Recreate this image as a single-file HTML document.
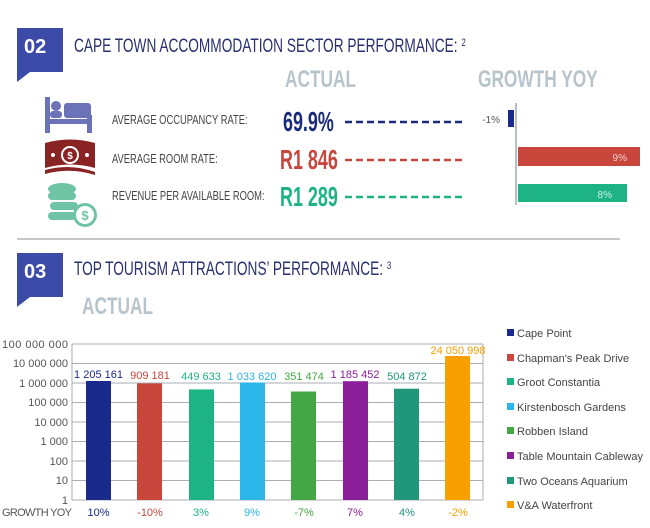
<!DOCTYPE html>
<html><head><meta charset="utf-8"><style>
body{margin:0;width:650px;height:528px;background:#fff;position:relative;overflow:hidden;font-family:"Liberation Sans",sans-serif}
.a{position:absolute;white-space:nowrap}
.n{transform-origin:0 0;transform:scaleX(0.72)}
.v{transform-origin:0 0;transform:scaleX(0.64)}
</style></head><body>
<svg class="a" style="left:0;top:0" width="650" height="528">
<polygon points="17,28 63,28 63,72 30,72 17,82" fill="#3c4aa8"/>
<polygon points="17,253 63,253 63,297 30,297 17,307" fill="#3c4aa8"/>
<line x1="17" y1="239" x2="620" y2="239" stroke="#c4c8cc" stroke-width="2"/>
<rect x="45" y="97" width="5" height="36" fill="#6b72b8"/>
<rect x="87" y="115" width="5" height="18" fill="#6b72b8"/>
<rect x="45" y="119" width="47" height="5" fill="#6b72b8"/>
<circle cx="56" cy="106" r="5" fill="#6b72b8"/>
<rect x="50" y="111" width="12" height="7" rx="3" fill="#6b72b8"/>
<rect x="64" y="103" width="27" height="15" rx="3" fill="#6b72b8"/>
<path d="M45,143 Q70,136 95,143 L95,168 Q70,161 45,168Z" fill="#8a2424"/>
<path d="M45,170 Q70,163 95,172 L95,175 Q70,167 45,174Z" fill="#8a2424"/>
<circle cx="70" cy="155" r="9" fill="#fff"/><circle cx="70" cy="155" r="7" fill="#8a2424"/>
<text x="70" y="159" font-size="10" fill="#fff" text-anchor="middle" font-weight="bold">$</text>
<circle cx="53" cy="155" r="2" fill="#fff"/><circle cx="87" cy="155" r="2" fill="#fff"/>
<g fill="#6ec4a4">
<ellipse cx="62" cy="189" rx="14" ry="6"/><rect x="48" y="192" width="28" height="8" rx="4"/>
<rect x="50" y="202" width="28" height="8" rx="4"/><rect x="48" y="212" width="28" height="8" rx="4"/>
<circle cx="85" cy="215" r="12"/></g>
<circle cx="85" cy="215" r="9" fill="#fff"/>
<text x="85" y="220" font-size="13" fill="#6ec4a4" text-anchor="middle" font-weight="bold">$</text>
<line x1="345" y1="122" x2="462" y2="122" stroke="#1a2a7c" stroke-width="2.5" stroke-dasharray="7,4"/>
<line x1="345" y1="160" x2="462" y2="160" stroke="#c9463d" stroke-width="2.5" stroke-dasharray="7,4"/>
<line x1="345" y1="197" x2="462" y2="197" stroke="#1db384" stroke-width="2.5" stroke-dasharray="7,4"/>
<line x1="516" y1="103" x2="516" y2="205" stroke="#b8bec4" stroke-width="2"/>
<rect x="508" y="110" width="6" height="17" fill="#1a2a8c"/>
<rect x="518" y="147" width="122" height="19" fill="#c9463d"/>
<rect x="518" y="184" width="109" height="18" fill="#1db384"/>
<text x="500" y="123" font-size="10" fill="#555" text-anchor="end">-1%</text>
<text x="627" y="161" font-size="10" fill="#f0d0d0" text-anchor="end">9%</text>
<text x="612" y="198" font-size="10" fill="#d0f0e4" text-anchor="end">8%</text>
<g stroke="#a8aeb4" stroke-width="1">
<line x1="72" y1="344" x2="483" y2="344"/><line x1="72" y1="363.5" x2="483" y2="363.5"/>
<line x1="72" y1="383" x2="483" y2="383"/><line x1="72" y1="402.5" x2="483" y2="402.5"/>
<line x1="72" y1="422" x2="483" y2="422"/><line x1="72" y1="441.5" x2="483" y2="441.5"/>
<line x1="72" y1="461" x2="483" y2="461"/><line x1="72" y1="480.5" x2="483" y2="480.5"/>
<line x1="72" y1="500" x2="483" y2="500"/>
<line x1="72" y1="344" x2="72" y2="500"/><line x1="483" y1="344" x2="483" y2="500"/>
</g>
<g font-size="11" fill="#555" text-anchor="end">
<text x="68" y="348" textLength="66">100 000 000</text><text x="68" y="367">10 000 000</text><text x="68" y="387">1 000 000</text>
<text x="68" y="406">100 000</text><text x="68" y="426">10 000</text><text x="68" y="445">1 000</text>
<text x="68" y="465">100</text><text x="68" y="484">10</text><text x="68" y="504">1</text>
</g>
<g>
<rect x="86" y="381" width="25" height="119" fill="#1a2a8c"/>
<rect x="137" y="383.4" width="25" height="116.6" fill="#c9463d"/>
<rect x="189" y="389.4" width="25" height="110.6" fill="#1db384"/>
<rect x="240" y="382.5" width="25" height="117.5" fill="#2bb5e8"/>
<rect x="291" y="391.5" width="25" height="108.5" fill="#43a843"/>
<rect x="343" y="381.2" width="25" height="118.8" fill="#8b1f9a"/>
<rect x="394" y="388.7" width="25" height="111.3" fill="#20967a"/>
<rect x="445" y="356" width="25" height="144" fill="#f7a000"/>
</g>
<g font-size="11" text-anchor="middle">
<text x="98.5" y="378" fill="#1a2a8c">1 205 161</text><text x="150" y="379" fill="#c9463d">909 181</text>
<text x="201" y="380" fill="#1db384">449 633</text><text x="252" y="380" fill="#2bb5e8">1 033 620</text>
<text x="304" y="380" fill="#43a843">351 474</text><text x="355" y="378" fill="#8b1f9a">1 185 452</text>
<text x="407" y="380" fill="#20967a">504 872</text><text x="458" y="354" fill="#f7a000">24 050 998</text>
<text x="98.5" y="516" fill="#1a2a8c">10%</text><text x="150" y="516" fill="#c9463d">-10%</text>
<text x="201" y="516" fill="#1db384">3%</text><text x="252" y="516" fill="#2bb5e8">9%</text>
<text x="304" y="516" fill="#43a843">-7%</text><text x="355" y="516" fill="#8b1f9a">7%</text>
<text x="407" y="516" fill="#20967a">4%</text><text x="458" y="516" fill="#f7a000">-2%</text>
</g>
<text x="2" y="516" font-size="11" fill="#555" textLength="70">GROWTH YOY</text>
<g font-size="11" fill="#444">
<rect x="507" y="329" width="7" height="7" fill="#1a2a8c"/><text x="517" y="337">Cape Point</text>
<rect x="507" y="354" width="7" height="7" fill="#c9463d"/><text x="517" y="362">Chapman's Peak Drive</text>
<rect x="507" y="378" width="7" height="7" fill="#1db384"/><text x="517" y="386">Groot Constantia</text>
<rect x="507" y="403" width="7" height="7" fill="#2bb5e8"/><text x="517" y="411">Kirstenbosch Gardens</text>
<rect x="507" y="427" width="7" height="7" fill="#43a843"/><text x="517" y="435">Robben Island</text>
<rect x="507" y="452" width="7" height="7" fill="#8b1f9a"/><text x="517" y="460">Table Mountain Cableway</text>
<rect x="507" y="477" width="7" height="7" fill="#20967a"/><text x="517" y="485">Two Oceans Aquarium</text>
<rect x="507" y="501" width="7" height="7" fill="#f7a000"/><text x="517" y="509">V&amp;A Waterfront</text>
</g>
</svg>
<div class="a" style="left:24px;top:36px;font-size:20px;font-weight:bold;color:#fff">02</div>
<div class="a" style="left:24px;top:261px;font-size:20px;font-weight:bold;color:#fff">03</div>
<div class="a n" style="left:74px;top:36px;font-size:19px;color:#2a3070">CAPE TOWN ACCOMMODATION SECTOR PERFORMANCE: <span style="font-size:11px;vertical-align:6px">2</span></div>
<div class="a n" style="left:74px;top:259px;font-size:19px;color:#2a3070">TOP TOURISM ATTRACTIONS’ PERFORMANCE: <span style="font-size:11px;vertical-align:6px">3</span></div>
<div class="a n" style="left:285px;top:66px;font-size:24px;font-weight:bold;color:#b8c4cc">ACTUAL</div>
<div class="a n" style="left:478px;top:66px;font-size:24px;font-weight:bold;color:#b8c4cc">GROWTH YOY</div>
<div class="a n" style="left:82px;top:293px;font-size:24px;font-weight:bold;color:#b8c4cc">ACTUAL</div>
<div class="a n" style="left:112px;top:112px;font-size:13px;color:#444">AVERAGE OCCUPANCY RATE:</div>
<div class="a n" style="left:112px;top:151px;font-size:13px;color:#444">AVERAGE ROOM RATE:</div>
<div class="a n" style="left:112px;top:188px;font-size:13px;color:#444">REVENUE PER AVAILABLE ROOM:</div>
<div class="a v" style="left:283px;top:106px;font-size:28px;font-weight:bold;color:#1a2a7c">69.9%</div>
<div class="a v" style="left:280px;top:144px;font-size:28px;font-weight:bold;color:#c9463d">R1 846</div>
<div class="a v" style="left:280px;top:181px;font-size:28px;font-weight:bold;color:#1db384">R1 289</div>
</body></html>
